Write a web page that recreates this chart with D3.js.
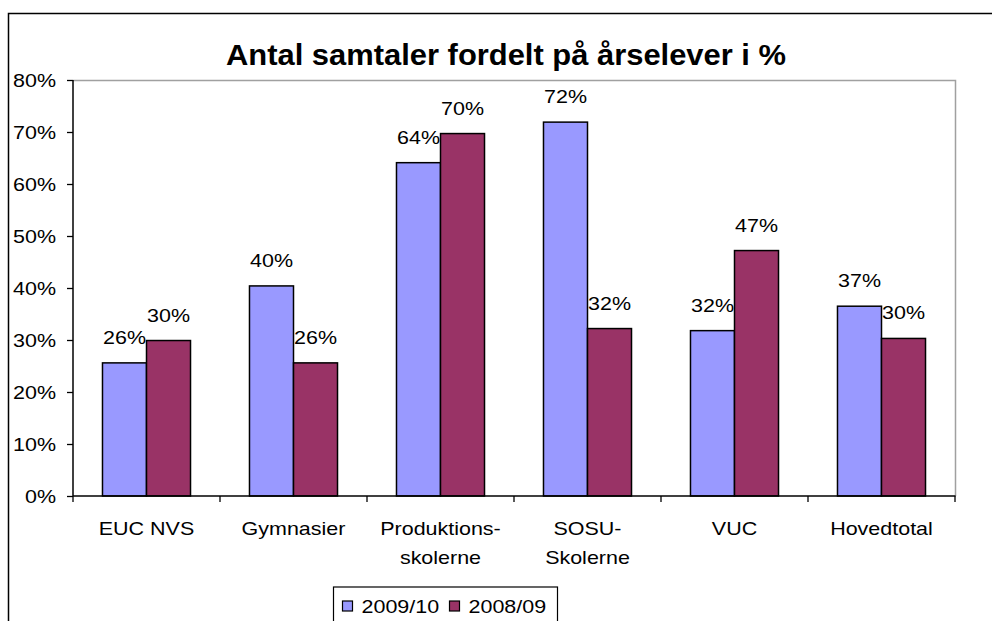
<!DOCTYPE html>
<html>
<head>
<meta charset="utf-8">
<script src="https://cdn.jsdelivr.net/npm/d3@7"></script>
<style>
  body { margin: 0; background: #fff; }
  svg text { font-family: "Liberation Sans", Arial, sans-serif; fill: #000; }
</style>
</head>
<body>
<svg id="chart" width="992" height="621"></svg>
<script>
// data
const categories = ["EUC NVS", "Gymnasier", "Produktions-\nskolerne", "SOSU-\nSkolerne", "VUC", "Hovedtotal"];
const seriesNames = ["2009/10", "2008/09"];
const colors = ["#9999FF", "#993366"];
const values2009 = [0.256, 0.404, 0.641, 0.719, 0.318, 0.365];
const values2008 = [0.299, 0.256, 0.697, 0.322, 0.472, 0.303];
const yTicks = [0, 0.1, 0.2, 0.3, 0.4, 0.5, 0.6, 0.7, 0.8];

const svg = d3.select("#chart");
const stretch = 1.13; // the picture's text is a bit wider than plain Arial

// stretch text horizontally to match the reference
function widen(sel, k) {
  sel.each(function() {
    const w = this.getComputedTextLength();
    d3.select(this).attr("textLength", w * k).attr("lengthAdjust", "spacingAndGlyphs");
  });
}

const plotL = 73, plotR = 955, plotT = 80, plotB = 496;

// outer chart frame (cropped by the window)
svg.append("rect")
  .attr("x", 8.5).attr("y", 13.5)
  .attr("width", 1100).attr("height", 700)
  .attr("fill", "none").attr("stroke", "#000").attr("stroke-width", 1.5);

const x = d3.scaleBand().domain(categories).range([plotL, plotR]).padding(0);
const x1 = d3.scaleBand().domain(seriesNames).range([0, x.bandwidth()]).paddingInner(0).paddingOuter(0.67);
const y = d3.scaleLinear().domain([0, 0.8]).range([plotB, plotT]);

// plot area border (top and right in grey)
svg.append("path")
  .attr("d", `M${plotL},${plotT + 0.5}H${plotR + 0.5}V${plotB}`)
  .attr("fill", "none").attr("stroke", "#a0a0a0").attr("stroke-width", 1.5);

// title
svg.append("text")
  .attr("x", 506).attr("y", 65)
  .attr("text-anchor", "middle")
  .style("font-size", "30px").style("font-weight", "bold")
  .text("Antal samtaler fordelt på årselever i %")
  .attr("textLength", 560).attr("lengthAdjust", "spacingAndGlyphs");

// bars
const rows = categories.map((c, i) => ({ cat: c, vals: [values2009[i], values2008[i]] }));
const groups = svg.selectAll("g.grp").data(rows).enter().append("g")
  .attr("class", "grp")
  .attr("transform", d => `translate(${x(d.cat)},0)`);

groups.selectAll("rect").data(d => d.vals.map((v, j) => ({ s: seriesNames[j], v, j })))
  .enter().append("rect")
  .attr("x", d => x1(d.s))
  .attr("y", d => y(d.v))
  .attr("width", x1.bandwidth())
  .attr("height", d => plotB - y(d.v))
  .attr("fill", d => colors[d.j])
  .attr("stroke", "#000").attr("stroke-width", 1.5);

groups.selectAll("text.lbl").data(d => d.vals.map((v, j) => ({ s: seriesNames[j], v, j })))
  .enter().append("text")
  .attr("class", "lbl")
  .attr("x", d => x1(d.s) + x1.bandwidth() / 2)
  .attr("y", d => y(d.v) - 19)
  .attr("text-anchor", "middle")
  .style("font-size", "19px")
  .text(d => Math.round(d.v * 100) + "%")
  .call(widen, stretch);

// y axis
const yAxis = svg.append("g")
  .attr("transform", `translate(${plotL},0)`)
  .call(d3.axisLeft(y).tickValues(yTicks).tickFormat(d3.format(".0%")).tickSize(6).tickPadding(11));
yAxis.select(".domain").attr("stroke", "#000").attr("stroke-width", 1.5).attr("d", `M0,${plotT}V${plotB}`);
yAxis.selectAll(".tick line").attr("stroke", "#000").attr("stroke-width", 1.3);
yAxis.selectAll(".tick text")
  .attr("dy", "0.36em")
  .style("font-size", "19px").style("font-family", "Liberation Sans, Arial, sans-serif")
  .attr("fill", "#000")
  .call(widen, stretch);

// x axis
const xAxis = svg.append("g").attr("transform", `translate(0,${plotB})`);
xAxis.append("line").attr("x1", plotL).attr("x2", plotR + 0.5).attr("stroke", "#000").attr("stroke-width", 1.5);
xAxis.selectAll("line.tk").data(d3.range(categories.length + 1)).enter().append("line")
  .attr("class", "tk")
  .attr("x1", i => plotL + i * x.step()).attr("x2", i => plotL + i * x.step())
  .attr("y1", 0).attr("y2", 6)
  .attr("stroke", "#000").attr("stroke-width", 1.3);

const catText = xAxis.selectAll("text.cat").data(categories).enter().append("text")
  .attr("class", "cat")
  .attr("text-anchor", "middle")
  .style("font-size", "19px");
catText.each(function(d) {
  const t = d3.select(this);
  d.split("\n").forEach((line, k) => {
    t.append("tspan")
      .attr("x", x(d) + x.bandwidth() / 2)
      .attr("y", 39 + k * 29)
      .text(line);
  });
});
catText.selectAll("tspan").call(widen, stretch);

// legend
const leg = svg.append("g").attr("transform", "translate(333.5,587)");
leg.append("rect").attr("width", 224).attr("height", 50)
  .attr("fill", "#fff").attr("stroke", "#000").attr("stroke-width", 1.2);
const legX = [9, 116];
seriesNames.forEach((s, j) => {
  leg.append("rect")
    .attr("x", legX[j]).attr("y", 14)
    .attr("width", 10).attr("height", 10)
    .attr("fill", colors[j]).attr("stroke", "#000").attr("stroke-width", 1.2);
  leg.append("text")
    .attr("x", legX[j] + 19).attr("y", 26)
    .style("font-size", "19px")
    .text(s)
    .call(widen, stretch);
});
</script>
</body>
</html>
